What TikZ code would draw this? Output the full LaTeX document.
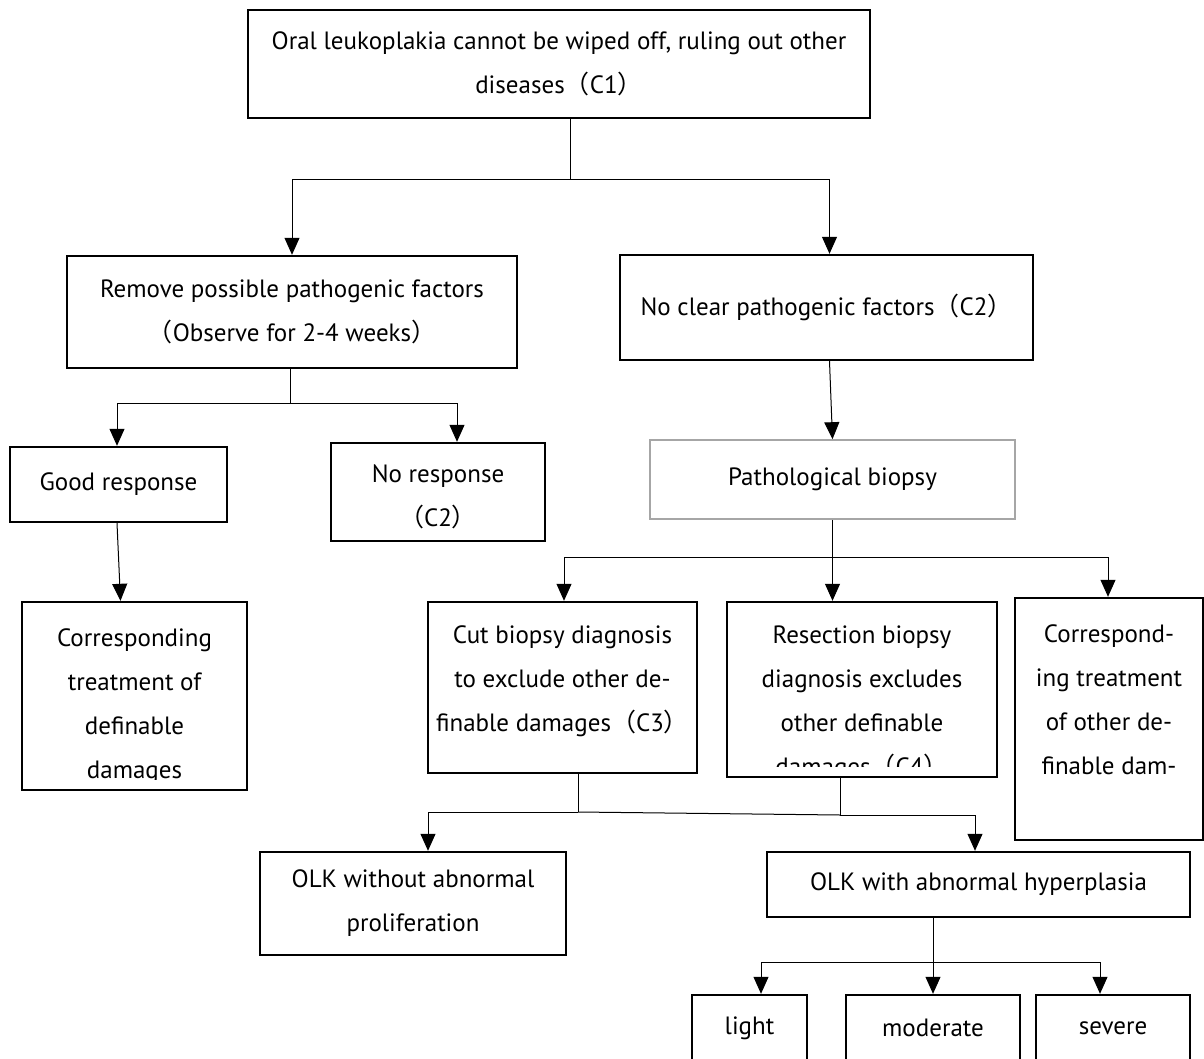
\documentclass[tikz,border=0pt]{standalone}
\usepackage{fontspec}
\setmainfont{PT Sans}
\newfontfamily\cjk{Noto Sans CJK SC}
\usepackage{tikz}
\usetikzlibrary{positioning,arrows.meta}
\newcommand\flowfont{\fontsize{25}{44}\selectfont}
\newcommand\fwl{{\cjk （}}
\newcommand\fwr{{\cjk ）}}
\tikzset{cbox/.style={draw,line width=2.4pt,inner sep=0pt,align=center,font=\flowfont},
	 gbox/.style={cbox,draw=black!35,line width=1.6pt},
	 txt/.style={inner sep=0pt,align=center,font=\flowfont},
	 arr/.style={-{Triangle[width=15pt,length=17pt]}},
	 link/.style={line width=1pt}
	 }

\begin{document}
\begin{tikzpicture}[x=1pt,y=-1pt] % OLK diagnosis flow
	\useasboundingbox (0,0) rectangle (1204,1059);
	\node[cbox,minimum width=622,minimum height=108] (c1) at (559,64)
	    {Oral leukoplakia cannot be wiped off, ruling out other\\diseases\fwl C1\fwr};
	\node[cbox,minimum width=450,minimum height=112] (remove) at (292,312)
	    {Remove possible pathogenic factors\\\fwl Observe for 2-4 weeks\fwr};
	\node[cbox,minimum width=413,minimum height=105] (noclear) at (826.5,307.5)
	    {No clear pathogenic factors\fwl C2\fwr};
	\node[cbox,minimum width=217,minimum height=75] (good) at (118.5,484.5) {Good response};
	\node[cbox,minimum width=214,minimum height=98] (nores) at (438,492) {};
	\node[txt,below=23pt of nores.north] (norestxt) {No response\\\fwl C2\fwr};
	\node[cbox,minimum width=225,minimum height=188] (treat) at (134.5,696) {};
	\node[gbox,minimum width=365,minimum height=79] (patho) at (832.5,479.5) {Pathological biopsy};
	\node[cbox,minimum width=269,minimum height=171] (cut) at (562.5,687.5) {};
	\node[cbox,minimum width=270,minimum height=175] (resect) at (862,689.5) {};
	\node[cbox,minimum width=188,minimum height=242] (other) at (1109,719) {};
	\node[cbox,minimum width=306,minimum height=103] (olkno) at (413,903.5) {OLK without abnormal\\proliferation};
	\node[cbox,minimum width=423,minimum height=65] (olkab) at (978.5,884.5) {OLK with abnormal hyperplasia};
	\node[cbox,minimum width=115,minimum height=66] (light) at (749.5,1028) {light};
	\node[cbox,minimum width=174,minimum height=66] (moderate) at (933,1028) {moderate};
	\node[cbox,minimum width=154,minimum height=66] (severe) at (1113,1028) {severe};
	% texts running past the box bottom
	\begin{scope}
	\clip ([yshift=12pt]treat.south west) rectangle (treat.north east);
	\node[txt,below=28pt of treat.north] (treattxt) {Corresponding\\treatment of\\definable\\damages};
	\end{scope}
	\begin{scope}
	\clip ([yshift=12pt]cut.south west) rectangle (cut.north east);
	\node[txt,below=25pt of cut.north] (cuttxt) {Cut biopsy diagnosis\\to exclude other de-\\finable damages\fwl C3\fwr};
	\end{scope}
	\begin{scope}
	\clip ([yshift=12pt]resect.south west) rectangle (resect.north east);
	\node[txt,below=25pt of resect.north] (resecttxt) {Resection biopsy\\diagnosis excludes\\other definable\\damages\fwl C4\fwr};
	\end{scope}
	\begin{scope}
	\clip ([yshift=12pt]other.south west) rectangle (other.north east);
	\node[txt,below=28pt of other.north] (othertxt) {Correspond-\\ing treatment\\of other de-\\finable dam-};
	\end{scope}
	\coordinate (j1) at (570,180);
	\coordinate (j2) at (290,403);
	\coordinate (j3) at (832.5,557);
	\coordinate (j4) at (578,812);
	\coordinate (j5) at (840,815);
	\coordinate (j6) at (933,962);
	\draw[link] (c1.south -| j1) -- (j1);
	\draw[link,arr] (j1) -| (remove);
	\draw[link,arr] (j1) -| ([xshift=3pt]noclear.north);
	\draw[link] (remove.south -| j2) -- (j2);
	\draw[link,arr] (j2) -| ([xshift=-1.5pt]good.north);
	\draw[link,arr] (j2) -| ([xshift=19pt]nores.north);
	\draw[link,arr] ([xshift=-1.5pt]good.south) -- ([xshift=-14pt]treat.north);
	\draw[link,arr] ([xshift=3pt]noclear.south) -- (patho.north);
	\draw[link] (patho.south) -- (j3);
	\draw[link,arr] (j3) -| ([xshift=1.5pt]cut.north);
	\draw[link,arr] (j3) -- (j3 |- resect.north);
	\draw[link,arr] (j3) -| ([xshift=-1pt]other.north);
	\draw[link] (cut.south -| j4) -- (j4);
	\draw[link] (resect.south -| j5) -- (j5);
	\draw[link] (j4) -- (j5);
	\draw[link,arr] (j4) -| ([xshift=15pt]olkno.north);
	\draw[link,arr] (j5) -| ([xshift=-3.5pt]olkab.north);
	\draw[link] (olkab.south -| j6) -- (j6);
	\draw[link,arr] (j6) -| ([xshift=11.5pt]light.north);
	\draw[link,arr] (j6) -- (moderate.north);
	\draw[link,arr] (j6) -| ([xshift=-13pt]severe.north);
\end{tikzpicture}
\end{document}
